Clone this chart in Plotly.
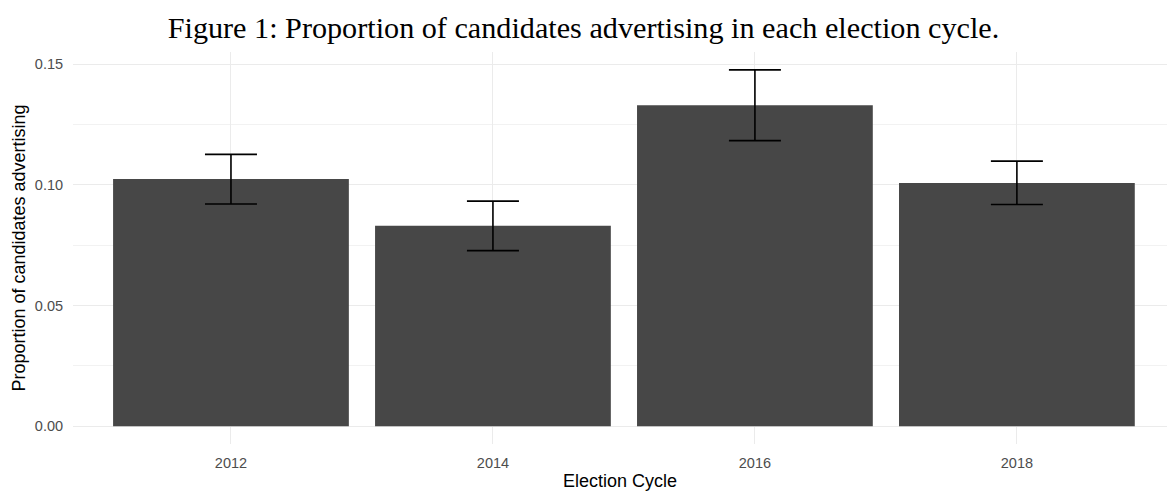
import plotly.graph_objects as go

cycles = ["2012", "2014", "2016", "2018"]
proportion = [0.1024, 0.0830, 0.1329, 0.1007]
upper = [0.1126, 0.0932, 0.1476, 0.1098]
lower = [0.0920, 0.0727, 0.1183, 0.0918]

err_plus = [u - p for u, p in zip(upper, proportion)]
err_minus = [p - l for p, l in zip(proportion, lower)]

fig = go.Figure()
fig.add_trace(go.Bar(
    x=cycles, y=proportion, width=0.9,
    marker=dict(color="#474747", line=dict(width=0)),
    error_y=dict(type="data", symmetric=False, array=err_plus, arrayminus=err_minus,
                 color="black", thickness=1.6, width=26),
    showlegend=False,
))

fig.update_layout(
    width=1167, height=491,
    margin=dict(l=73, r=0, t=52, b=47),
    plot_bgcolor="white", paper_bgcolor="white",
    title=dict(text="Figure 1: Proportion of candidates advertising in each election cycle.",
               x=0.5, xref="container", xanchor="center",
               y=1 - 27 / 491, yref="container", yanchor="middle",
               font=dict(family="Liberation Serif, Times New Roman, serif", size=30.2, color="black")),
    font=dict(family="Liberation Sans, Arial, sans-serif"),
    bargap=0.1,
)
fig.update_xaxes(
    type="category", range=[-0.603, 3.573],
    showgrid=True, gridcolor="#ebebeb", gridwidth=1.2,
    zeroline=False, showline=False,
    ticks="outside", ticklen=6, tickcolor="rgba(0,0,0,0)",
    tickfont=dict(size=14.5, color="#4d4d4d"),
    title=dict(text="Election Cycle", font=dict(size=18, color="black"), standoff=5),
)
fig.update_yaxes(
    range=[-0.0074, 0.155],
    tickvals=[0, 0.05, 0.10, 0.15], ticktext=["0.00", "0.05", "0.10", "0.15"],
    showgrid=True, gridcolor="#ebebeb", gridwidth=1.2,
    minor=dict(tickvals=[0.025, 0.075, 0.125], showgrid=True, gridcolor="#f2f2f2", gridwidth=0.8),
    zeroline=False, showline=False,
    ticks="outside", ticklen=6, tickcolor="rgba(0,0,0,0)",
    tickfont=dict(size=14.5, color="#4d4d4d"),
    title=dict(text="Proportion of candidates advertising", font=dict(size=18, color="black"), standoff=4),
)

fig.write_html("out.html")
